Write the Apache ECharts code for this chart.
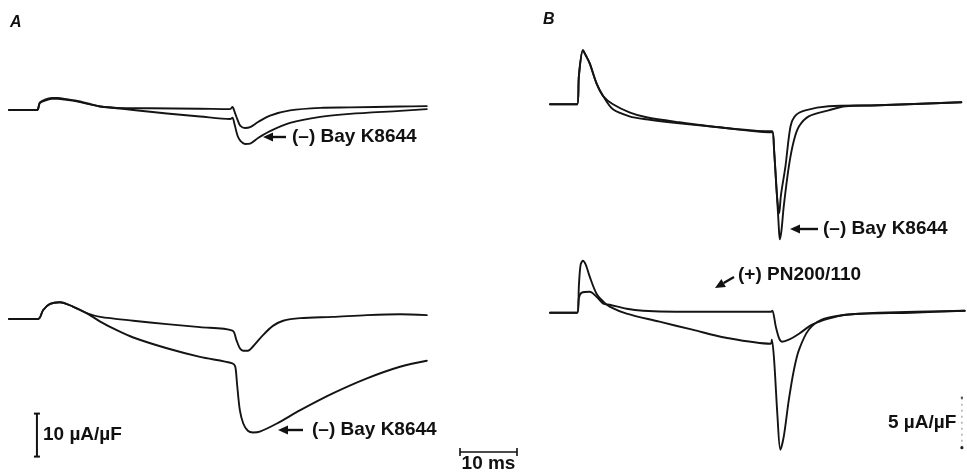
<!DOCTYPE html>
<html><head><meta charset="utf-8">
<script src="https://cdn.jsdelivr.net/npm/echarts@6/dist/echarts.min.js"></script>
<style>html,body{margin:0;padding:0;background:#fff}#c{width:967px;height:472px}</style>
</head><body><div id="c"></div>
<script>
// Time in ms, current in µA/µF (relative to holding baseline)
// Panel A, upper pair of records
const aTopLarge = [[0,0],[4.9,0],[5.4,1.6],[6.3,2.2],[7.5,2.6],[8.6,2.6],[9.8,2.4],[11.6,2.1],[14.2,1.3],[16.0,0.8],[18.9,0.4],[21.8,0.0],[27.7,-0.8],[33.5,-1.5],[38.8,-2.1],[39.2,-1.8],[39.6,-3.5],[40.1,-6.0],[40.6,-7.2],[41.4,-7.9],[42.3,-7.8],[43.7,-6.5],[45.8,-4.9],[49.3,-3.0],[54.6,-1.6],[59.8,-0.9],[68.6,-0.2],[73.3,0.2]];
const aTopSmall = [[0,0],[4.9,0],[5.4,1.7],[6.3,2.4],[7.5,2.8],[8.6,2.8],[9.8,2.6],[11.6,2.2],[14.2,1.4],[16.0,0.8],[18.9,0.5],[24.7,0.4],[33.5,0.3],[38.8,0.2],[39.2,0.7],[39.6,-0.5],[40.1,-2.3],[40.6,-3.7],[41.4,-4.2],[42.3,-4.0],[43.7,-2.8],[45.8,-1.3],[49.3,-0.1],[54.6,0.5],[59.8,0.6],[68.6,0.8],[73.3,0.9]];
// Panel A, lower pair of records
const aBotSmall = [[0,0],[5.1,0],[6.0,2.1],[7.2,3.5],[8.9,3.9],[11.2,2.9],[13.7,1.3],[16.0,0.5],[21.8,-0.4],[27.7,-1.2],[33.5,-1.9],[39.2,-2.7],[39.9,-4.9],[40.5,-6.8],[41.1,-7.4],[41.9,-7.4],[42.8,-6.4],[44.6,-3.7],[46.3,-1.6],[48.1,-0.4],[51.1,0.2],[56.8,0.5],[62.8,0.9],[68.6,1.1],[73.3,0.9]];
const aBotLarge = [[0,0],[5.1,0],[6.0,2.1],[7.2,3.5],[8.9,3.9],[11.2,2.9],[13.7,1.3],[16.0,-0.6],[18.9,-2.6],[21.8,-4.3],[27.7,-6.8],[33.5,-8.8],[39.2,-10.3],[39.7,-11.1],[40.0,-15.0],[40.5,-21.2],[41.1,-24.3],[41.9,-26.0],[42.8,-26.4],[44.0,-26.2],[47.0,-24.3],[51.1,-21.2],[56.8,-17.3],[62.8,-13.8],[68.6,-11.1],[73.3,-9.7]];
// Panel B, upper pair of records
const bTopSmall = [[0,0],[4.8,0],[5.1,2.9],[5.8,5.4],[6.3,4.9],[7.0,4.1],[8.2,2.1],[9.4,0.8],[11.1,0.0],[14.0,-0.8],[17.0,-1.3],[22.8,-1.8],[29.8,-2.3],[38.6,-2.7],[39.2,-2.7],[39.5,-4.6],[40.0,-9.1],[40.4,-10.9],[40.7,-9.1],[41.5,-6.2],[42.4,-2.2],[43.3,-1.1],[45.0,-0.6],[49.1,-0.2],[57.9,-0.1],[72.5,0.2]];
const bTopLarge = [[0,0],[4.8,0],[5.1,2.9],[5.8,5.4],[6.3,4.9],[7.0,4.1],[8.2,2.1],[9.4,0.8],[11.1,-0.5],[14.0,-1.2],[17.0,-1.5],[22.8,-1.9],[29.8,-2.3],[38.6,-2.8],[39.2,-2.8],[39.5,-4.6],[40.0,-9.1],[40.3,-12.0],[40.5,-13.5],[40.8,-12.6],[41.2,-10.2],[42.1,-6.2],[43.0,-3.6],[43.9,-2.2],[45.6,-1.2],[49.1,-0.6],[52.1,-0.2],[57.9,-0.1],[72.5,0.2]];
// Panel B, lower pair of records
const bBotControl = [[0,0],[4.8,0],[5.1,2.8],[5.4,4.8],[5.8,5.2],[6.3,4.8],[7.0,3.6],[8.2,1.9],[9.4,1.1],[10.5,0.6],[13.5,-0.1],[19.3,-0.9],[25.1,-1.7],[31.0,-2.5],[38.9,-3.1],[39.1,-2.7],[39.5,-4.7],[40.1,-10.4],[40.6,-13.7],[41.2,-12.4],[42.1,-8.7],[43.0,-5.7],[43.9,-3.7],[45.6,-1.7],[47.9,-0.7],[50.9,-0.3],[54.9,-0.1],[63.7,0],[73.1,0.2]];
const bBotPN = [[0,0],[4.8,0],[5.1,1.5],[5.6,2.0],[7.0,2.1],[8.2,1.6],[9.4,0.9],[10.5,0.8],[13.5,0.4],[16.4,0.2],[22.2,0.1],[39.0,0.1],[39.2,0.2],[39.8,-1.4],[40.4,-2.6],[40.9,-2.9],[42.1,-2.7],[43.9,-2.1],[46.2,-1.2],[49.1,-0.6],[52.1,-0.2],[57.9,0],[73.1,0.2]];

// Scale bars
const scaleA = 10;   // µA/µF
const scaleB = 5;    // µA/µF
const scaleT = 10;   // ms
const labelBay = '(–) Bay K8644';
const labelPN = '(+) PN200/110';

const chart = echarts.init(document.getElementById('c'));
const PX_MS = 5.7, T_MAX = 73.5;
function mkGrid(left, base, ppu, ymax, ymin){
  return {left:left, top: base - ymax*ppu, width: T_MAX*PX_MS, height:(ymax-ymin)*ppu};
}
const yr = [[15,-25],[10,-35],[7,-15],[7,-15]];
const grids = [mkGrid(9,110,4.3,15,-25), mkGrid(9,319,4.3,10,-35), mkGrid(550,104.3,10,7,-15), mkGrid(550,312.7,10,7,-15)];
const xAxes = grids.map((g,i)=>({type:'value',gridIndex:i,min:0,max:T_MAX,show:false}));
const yAxes = grids.map((g,i)=>({type:'value',gridIndex:i,min:yr[i][1],max:yr[i][0],show:false}));
function trace(data, gi){
  return {type:'line', xAxisIndex:gi, yAxisIndex:gi, data:data, showSymbol:false, symbol:'none',
    smooth:0.3, silent:true, animation:false,
    lineStyle:{color:'#141414', width:1.9, join:'round', cap:'round'}};
}
const series = [
  trace(aTopLarge,0), trace(aTopSmall,0),
  trace(aBotSmall,1), trace(aBotLarge,1),
  trace(bTopSmall,2), trace(bTopLarge,2),
  trace(bBotControl,3), trace(bBotPN,3)
];
chart.setOption({animation:false, backgroundColor:'#fff', grid:grids, xAxis:xAxes, yAxis:yAxes, series:series});

const FONT = 'bold 19px "Liberation Sans", Arial, sans-serif';
function txt(s, x, y, font, align){
  return {type:'text', z:10, style:{text:s, x:x, y:y, font:font||FONT, fill:'#111',
    textAlign:align||'left', textVerticalAlign:'middle', align:align||'left', verticalAlign:'middle'}};
}
function arrow(x1,y1,x2,y2){ // tail (x1,y1) -> tip (x2,y2)
  const a = Math.atan2(y2-y1, x2-x1), L=10, W=4.5;
  const bx = x2 - L*Math.cos(a), by = y2 - L*Math.sin(a);
  const px = -Math.sin(a)*W, py = Math.cos(a)*W;
  return [
    {type:'line', z:10, shape:{x1:x1,y1:y1,x2:bx,y2:by}, style:{stroke:'#111', lineWidth:2.4}},
    {type:'polygon', z:10, shape:{points:[[x2,y2],[bx+px,by+py],[bx-px,by-py]]}, style:{fill:'#111'}}
  ];
}
// scale bars, placed through the axes' own scales
const pA0 = chart.convertToPixel({gridIndex:1}, [4.9, -22]);
const pA1 = chart.convertToPixel({gridIndex:1}, [4.9, -22 - scaleA]);
const pB0 = chart.convertToPixel({gridIndex:3}, [72.6, -8.5]);
const pB1 = chart.convertToPixel({gridIndex:3}, [72.6, -8.5 - scaleB]);
const t0 = chart.convertToPixel({gridIndex:1}, [0, 0]);
const t1 = chart.convertToPixel({gridIndex:1}, [scaleT, 0]);
const tLen = t1[0] - t0[0];
const tx0 = 460, ty = 452;
const g = [];
g.push(txt('A', 10, 23, 'italic bold 16px "Liberation Sans", Arial, sans-serif'));
g.push(txt('B', 543, 20, 'italic bold 16px "Liberation Sans", Arial, sans-serif'));
g.push(...arrow(286,137,263,137)); g.push(txt(labelBay, 292, 137));
g.push(...arrow(303,430,278,430)); g.push(txt(labelBay, 312, 430));
g.push(...arrow(818,229,790,229)); g.push(txt(labelBay, 823, 229));
g.push(...arrow(734,277,715,288)); g.push(txt(labelPN, 738, 275));
// 10 µA/µF bar
g.push({type:'line', z:10, shape:{x1:pA0[0],y1:pA0[1],x2:pA1[0],y2:pA1[1]}, style:{stroke:'#111',lineWidth:2}});
g.push({type:'line', z:10, shape:{x1:pA0[0]-3,y1:pA0[1],x2:pA0[0]+3,y2:pA0[1]}, style:{stroke:'#111',lineWidth:2}});
g.push({type:'line', z:10, shape:{x1:pA1[0]-3,y1:pA1[1],x2:pA1[0]+3,y2:pA1[1]}, style:{stroke:'#111',lineWidth:2}});
g.push(txt('10 µA/µF', 43, 435));
// 5 µA/µF bar (faint, dotted)
g.push({type:'line', z:10, shape:{x1:pB0[0],y1:pB0[1],x2:pB1[0],y2:pB1[1]}, style:{stroke:'#999',lineWidth:1.2,lineDash:[2,4]}});
g.push({type:'circle', z:10, shape:{cx:pB0[0],cy:pB0[1],r:1.2}, style:{fill:'#555'}});
g.push({type:'circle', z:10, shape:{cx:pB1[0],cy:pB1[1],r:1.6}, style:{fill:'#222'}});
g.push(txt('5 µA/µF', 888, 423));
// 10 ms bar
g.push({type:'line', z:10, shape:{x1:tx0,y1:ty,x2:tx0+tLen,y2:ty}, style:{stroke:'#111',lineWidth:1.6}});
g.push({type:'line', z:10, shape:{x1:tx0,y1:ty-4,x2:tx0,y2:ty+4}, style:{stroke:'#111',lineWidth:1.6}});
g.push({type:'line', z:10, shape:{x1:tx0+tLen,y1:ty-4,x2:tx0+tLen,y2:ty+4}, style:{stroke:'#111',lineWidth:1.6}});
g.push(txt('10 ms', tx0+tLen/2, 464, FONT, 'center'));
chart.setOption({graphic:g});
</script></body></html>
